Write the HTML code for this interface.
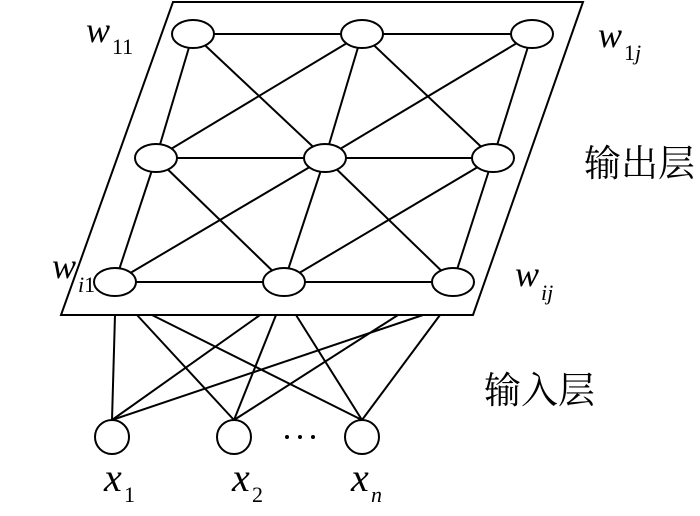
<!DOCTYPE html>
<html><head><meta charset="utf-8"><style>body{margin:0;background:#fff}svg{display:block}</style></head><body>
<svg width="700" height="516" viewBox="0 0 700 516" xmlns="http://www.w3.org/2000/svg">
<g stroke="#000" stroke-width="2" fill="none">
<polygon points="173,2 583,2 473,315 61,315"/>
<line x1="193" y1="34" x2="532" y2="34"/>
<line x1="156" y1="158" x2="493" y2="158"/>
<line x1="115" y1="282" x2="453" y2="282"/>
<line x1="193" y1="34" x2="156" y2="158"/>
<line x1="193" y1="34" x2="325" y2="158"/>
<line x1="362" y1="34" x2="156" y2="158"/>
<line x1="362" y1="34" x2="325" y2="158"/>
<line x1="362" y1="34" x2="493" y2="158"/>
<line x1="532" y1="34" x2="325" y2="158"/>
<line x1="532" y1="34" x2="493" y2="158"/>
<line x1="156" y1="158" x2="115" y2="282"/>
<line x1="156" y1="158" x2="284" y2="282"/>
<line x1="325" y1="158" x2="115" y2="282"/>
<line x1="325" y1="158" x2="284" y2="282"/>
<line x1="325" y1="158" x2="453" y2="282"/>
<line x1="493" y1="158" x2="284" y2="282"/>
<line x1="493" y1="158" x2="453" y2="282"/>
<line x1="112" y1="420" x2="115" y2="315"/>
<line x1="112" y1="420" x2="260" y2="315"/>
<line x1="112" y1="420" x2="423" y2="315"/>
<line x1="234" y1="420" x2="137" y2="315"/>
<line x1="234" y1="420" x2="276" y2="315"/>
<line x1="234" y1="420" x2="398" y2="315"/>
<line x1="362" y1="420" x2="152" y2="315"/>
<line x1="362" y1="420" x2="296" y2="315"/>
<line x1="362" y1="420" x2="440" y2="315"/>
<g fill="#fff">
<ellipse cx="193" cy="34" rx="21" ry="14"/><ellipse cx="362" cy="34" rx="21" ry="14"/><ellipse cx="532" cy="34" rx="21" ry="14"/>
<ellipse cx="156" cy="158" rx="21" ry="14"/><ellipse cx="325" cy="158" rx="21" ry="14"/><ellipse cx="493" cy="158" rx="21" ry="14"/>
<ellipse cx="115" cy="282" rx="21" ry="14"/><ellipse cx="284" cy="282" rx="21" ry="14"/><ellipse cx="453" cy="282" rx="21" ry="14"/>
<circle cx="112" cy="437" r="17"/><circle cx="234" cy="437" r="17"/><circle cx="362" cy="437" r="17"/>
</g>
</g>
<g fill="#000">
<circle cx="287" cy="437" r="2"/><circle cx="300" cy="437" r="2"/><circle cx="313" cy="437" r="2"/>
</g>
<g font-family="Liberation Serif, serif" fill="#000">
<text x="86" y="42" font-size="36" font-style="italic">w</text><text x="112" y="54" font-size="22">11</text>
<text x="598" y="47" font-size="36" font-style="italic">w</text><text x="624" y="60" font-size="22">1<tspan font-style="italic">j</tspan></text>
<text x="52" y="278" font-size="36" font-style="italic">w</text><text x="78" y="292" font-size="22"><tspan font-style="italic">i</tspan>1</text>
<text x="515" y="286" font-size="36" font-style="italic">w</text><text x="541" y="300" font-size="22" font-style="italic">ij</text>
<text x="104" y="491" font-size="40" font-style="italic">x</text><text x="124" y="502" font-size="22">1</text>
<text x="232" y="491" font-size="40" font-style="italic">x</text><text x="252" y="502" font-size="22">2</text>
<text x="351" y="491" font-size="40" font-style="italic">x</text><text x="371" y="502" font-size="22" font-style="italic">n</text>
</g>
<g font-family="Liberation Serif, 'Noto Serif CJK SC', serif" font-size="37" fill="#000">
<text x="584" y="176">输出层</text>
<text x="484" y="403">输入层</text>
</g>
</svg>
</body></html>
